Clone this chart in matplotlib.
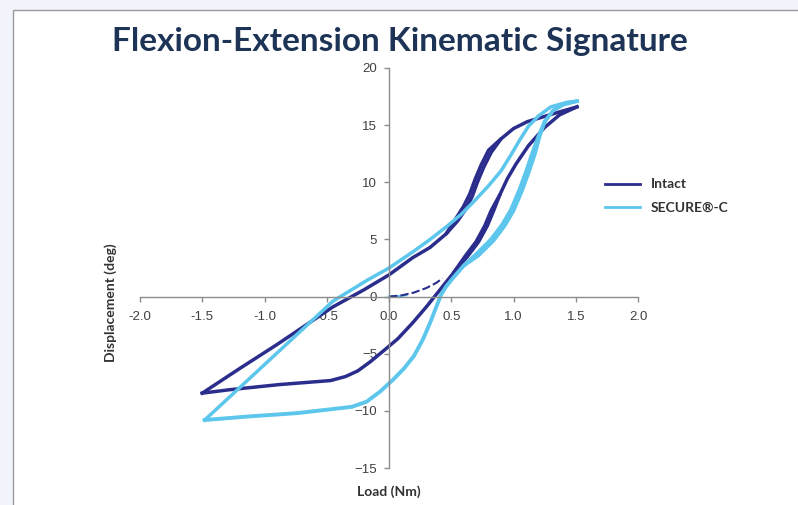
import numpy as np
import matplotlib.pyplot as plt
from matplotlib.patches import Rectangle

# Intact loop: loading branch (extension corner -> flexion peak) and unloading branch
intact_up_x = [-1.50, -1.2, -0.9, -0.6, -0.45, -0.2, 0.0, 0.19, 0.33, 0.46, 0.55, 0.62, 0.67, 0.71,
               0.76, 0.82, 0.90, 1.00, 1.11, 1.32, 1.51]
intact_up_y = [-8.45, -6.3, -4.2, -2.0, -0.9, 0.6, 1.9, 3.4, 4.3, 5.5, 6.6, 7.7, 8.8, 10.0,
               11.3, 12.6, 13.8, 14.7, 15.3, 16.0, 16.6]
intact_dn_x = [1.51, 1.37, 1.25, 1.12, 1.02, 0.95, 0.89, 0.84, 0.79, 0.72, 0.63, 0.52, 0.41, 0.30,
               0.19, 0.07, -0.05, -0.15, -0.25, -0.35, -0.47, -0.88, -1.28, -1.50]
intact_dn_y = [16.6, 15.9, 14.8, 13.2, 11.6, 10.3, 8.9, 7.5, 6.2, 4.8, 3.5, 2.1, 0.6, -0.9,
               -2.3, -3.7, -4.8, -5.7, -6.5, -7.0, -7.35, -7.7, -8.15, -8.45]
# repeated cycles where the band is wider
intact_up2_x = [0.46, 0.53, 0.60, 0.65, 0.69, 0.74, 0.80, 0.90]
intact_up2_y = [5.5, 6.7, 7.9, 9.0, 10.2, 11.5, 12.8, 13.8]
intact_dn2_x = [0.89, 0.82, 0.77, 0.70, 0.61, 0.52]
intact_dn2_y = [8.9, 7.5, 6.2, 4.8, 3.5, 2.1]
# first loading from neutral
intact_start_x = [0.0, 0.1, 0.2, 0.3, 0.38, 0.43]
intact_start_y = [0.0, 0.1, 0.35, 0.75, 1.2, 1.6]

# SECURE-C loop
secure_up_x = [-1.48, -0.45, -0.18, 0.0, 0.19, 0.33, 0.46, 0.58, 0.68, 0.80, 0.90, 0.98, 1.05,
               1.12, 1.20, 1.30, 1.43, 1.51]
secure_up_y = [-10.8, -0.4, 1.4, 2.5, 3.9, 5.0, 6.1, 7.2, 8.3, 9.7, 11.0, 12.4, 13.7,
               14.9, 15.8, 16.6, 17.0, 17.1]
secure_dn_x = [1.51, 1.40, 1.32, 1.25, 1.20, 1.15, 1.10, 1.05, 0.98, 0.91, 0.82, 0.70, 0.60, 0.52,
               0.46, 0.42, 0.38, 0.33, 0.27, 0.20, 0.12, 0.03, -0.07, -0.18, -0.30, -0.50, -0.74,
               -1.14, -1.48]
secure_dn_y = [17.1, 16.8, 16.3, 15.3, 14.0, 12.5, 10.9, 9.4, 7.6, 6.3, 5.0, 3.7, 2.7, 1.7,
               0.9, 0.2, -0.9, -2.3, -3.8, -5.2, -6.3, -7.3, -8.3, -9.2, -9.65, -9.9, -10.2,
               -10.5, -10.8]
secure_dn2_x = [1.25, 1.21, 1.17, 1.12, 1.07, 1.00, 0.93, 0.84, 0.72, 0.60]
secure_dn2_y = [15.3, 14.0, 12.4, 10.8, 9.3, 7.5, 6.2, 4.9, 3.6, 2.7]
secure_start_x = [0.0, 0.06, 0.14]
secure_start_y = [0.0, 0.02, 0.12]

dark = '#2b2d8c'
light = '#5cc6ec'

fig = plt.figure(figsize=(7.98, 5.05), dpi=100)
fig.patch.set_facecolor('#f1f4fa')
fig.patches.append(Rectangle((13/798, -0.01), 1.0, 1 - 10/505 + 0.01, transform=fig.transFigure,
                             facecolor='white', edgecolor='#9a9a9a', lw=1.0, zorder=-10))

ax = fig.add_axes([140/798, 1 - 468/505, 498/798, 400/505])
ax.patch.set_alpha(0)

ax.plot(intact_up_x, intact_up_y, color=dark, lw=2.5, solid_joinstyle='round')
ax.plot(intact_dn_x, intact_dn_y, color=dark, lw=2.5, solid_joinstyle='round', label='Intact')
ax.plot(intact_up2_x, intact_up2_y, color=dark, lw=2.6, solid_capstyle='round')
ax.plot(intact_dn2_x, intact_dn2_y, color=dark, lw=2.6, solid_capstyle='round')

ax.plot(secure_up_x, secure_up_y, color=light, lw=2.5, solid_joinstyle='round')
ax.plot(secure_dn_x, secure_dn_y, color=light, lw=2.8, solid_joinstyle='round', label='SECURE®-C')
ax.plot(secure_dn2_x, secure_dn2_y, color=light, lw=2.6, solid_capstyle='round')

ax.plot(secure_start_x, secure_start_y, color=light, lw=1.5)
ax.plot(intact_start_x, intact_start_y, color=dark, lw=1.5, ls=(0, (4, 1.5)))

ax.set_xlim(-2.0, 2.0)
ax.set_ylim(-15, 20)
ax.set_xticks(np.arange(-2.0, 2.01, 0.5))
ax.set_xticklabels(['%.1f' % v for v in np.arange(-2.0, 2.01, 0.5)])
ax.set_yticks(np.arange(-15, 21, 5))

ax.spines['left'].set_position(('data', 0))
ax.spines['bottom'].set_position(('data', 0))
ax.spines['top'].set_visible(False)
ax.spines['right'].set_visible(False)
for s in ['left', 'bottom']:
    ax.spines[s].set_color('#8c8c8c')
    ax.spines[s].set_linewidth(1.0)
ax.tick_params(axis='both', direction='out', length=3.5, width=1.0, color='#8c8c8c',
               labelsize=9.5, labelcolor='#404040')
ax.tick_params(axis='x', pad=7)
ax.tick_params(axis='y', pad=5)
for lab in ax.get_xticklabels() + ax.get_yticklabels():
    lab.set_family('Liberation Sans')

fig.text(400/798, 1 - 42/505, 'Flexion-Extension Kinematic Signature', ha='center', va='center',
         fontsize=24, fontweight='bold', color='#1d3456', family='Lato')
fig.text(389/798, 1 - 492/505, 'Load (Nm)', ha='center', va='center',
         fontsize=10, fontweight='bold', color='#333333', family='Lato')
fig.text(111/798, 1 - 303/505, 'Displacement (deg)', ha='center', va='center', rotation=90,
         fontsize=10, fontweight='bold', color='#333333', family='Lato')

leg = fig.legend(handles=ax.lines[1:2] + ax.lines[5:6], loc='center left',
                 bbox_to_anchor=(598/798, 1 - 196/505), frameon=False,
                 prop={'family': 'Lato', 'weight': 'bold', 'size': 10},
                 handlelength=2.5, handletextpad=0.8, labelspacing=0.8, borderpad=0)
for h in leg.get_lines():
    h.set_linewidth(2.0)
for t in leg.get_texts():
    t.set_color('#333333')

fig.savefig('out.png', dpi=100, facecolor=fig.get_facecolor())
